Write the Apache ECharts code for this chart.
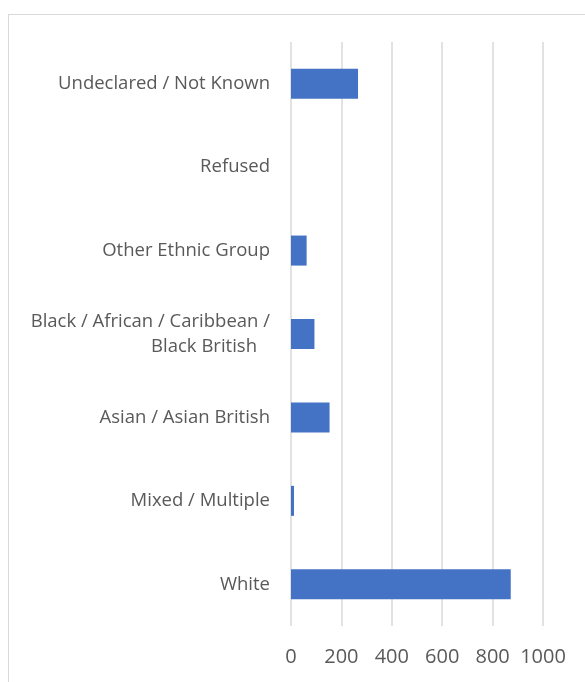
<!DOCTYPE html>
<html>
<head>
<meta charset="utf-8">
<script src="https://cdn.jsdelivr.net/npm/echarts@6/dist/echarts.min.js"></script>
<style>
  html, body { margin: 0; padding: 0; background: #fff; overflow: hidden; }
  .frame {
    position: absolute; left: 8px; top: 14px;
    width: 700px; height: 700px;
    border: 1px solid #d9d9d9;
  }
  #chart { position: absolute; left: 0; top: 0; width: 585px; height: 682px; }
</style>
</head>
<body>
<div class="frame"></div>
<div id="chart"></div>
<script>
// categories listed bottom to top (as on the y axis)
const categories = [
  'White',
  'Mixed / Multiple',
  'Asian / Asian British',
  'Black / African / Caribbean /\nBlack British',
  'Other Ethnic Group',
  'Refused',
  'Undeclared / Not Known'
]
const counts = [872, 12, 153, 93, 62, 0, 266]
const xTicks = [0, 200, 400, 600, 800, 1000]

const labelStyle = { color: '#595959', fontSize: 18.5, fontFamily: 'Open Sans', lineHeight: 25 }

const chart = echarts.init(document.getElementById('chart'))
chart.setOption({
  animation: false,
  grid: { left: 291, right: 42, top: 42, bottom: 56 },
  xAxis: {
    type: 'value',
    min: xTicks[0],
    max: xTicks[xTicks.length - 1],
    interval: 200,
    axisLine: { show: false },
    axisTick: { show: false },
    axisLabel: {
      color: '#595959', fontSize: 20, margin: 21, fontFamily: 'Open Sans',
      formatter: v => String(v)
    },
    splitLine: { lineStyle: { color: '#d9d9d9', width: 1.5 } }
  },
  yAxis: {
    type: 'category',
    data: categories,
    axisLine: { show: false },
    axisTick: { show: false },
    axisLabel: {
      margin: 21,
      align: 'right',
      formatter: v => v.split('\n').map((s, i) => (i === 0 ? '{a|' : '{b|') + s + '}').join('\n'),
      rich: {
        a: Object.assign({ align: 'right' }, labelStyle),
        b: Object.assign({ align: 'right', padding: [0, 13, 0, 0] }, labelStyle)
      }
    }
  },
  series: [{
    type: 'bar',
    data: counts,
    barCategoryGap: '64%',
    itemStyle: { color: '#4472C4' }
  }]
})
</script>
</body>
</html>
